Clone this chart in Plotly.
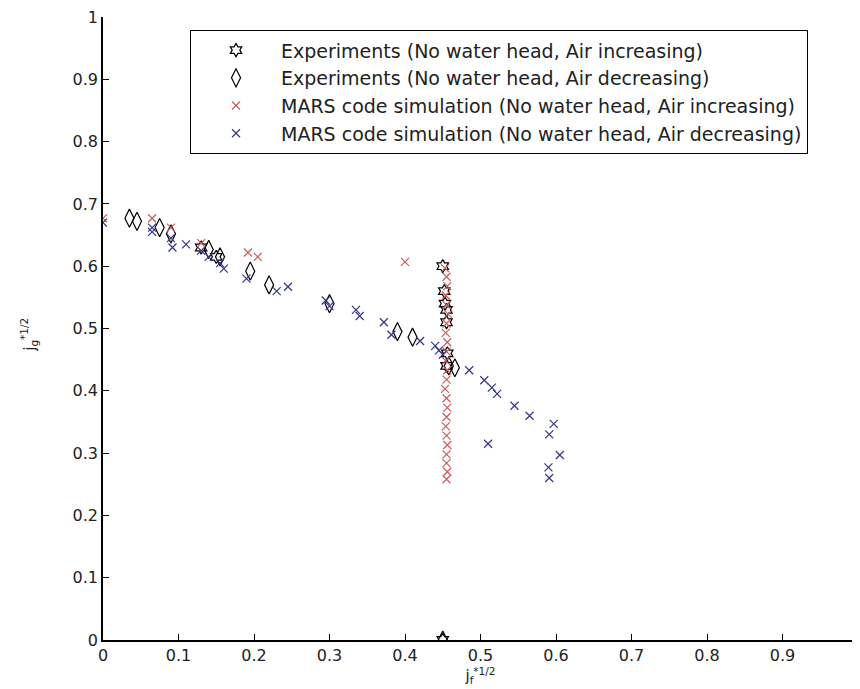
import plotly.graph_objects as go

# Experiments (No water head, Air increasing) - star markers
exp_inc_x = [0.450, 0.452, 0.453, 0.455, 0.455, 0.456, 0.455, 0.130, 0.150, 0.450]
exp_inc_y = [0.600, 0.560, 0.540, 0.530, 0.510, 0.460, 0.440, 0.630, 0.615, 0.000]

# Experiments (No water head, Air decreasing) - diamond markers
exp_dec_x = [0.035, 0.045, 0.075, 0.090, 0.140, 0.155, 0.195, 0.220, 0.300, 0.390, 0.410, 0.458, 0.466, 0.450]
exp_dec_y = [0.677, 0.672, 0.662, 0.652, 0.627, 0.615, 0.592, 0.570, 0.540, 0.495, 0.486, 0.440, 0.437, 0.000]

# MARS code simulation (No water head, Air increasing) - red x
mars_inc_x = [0.000, 0.065, 0.090, 0.130, 0.192, 0.205, 0.400,
              0.453, 0.455, 0.456, 0.454, 0.455, 0.457, 0.455, 0.454, 0.456, 0.455,
              0.454, 0.456, 0.455, 0.453, 0.455, 0.456, 0.455, 0.454, 0.455, 0.456,
              0.455, 0.455, 0.456, 0.455]
mars_inc_y = [0.677, 0.677, 0.662, 0.637, 0.622, 0.615, 0.607,
              0.597, 0.583, 0.568, 0.553, 0.538, 0.523, 0.508, 0.493, 0.478, 0.463,
              0.448, 0.433, 0.418, 0.403, 0.388, 0.373, 0.358, 0.343, 0.328, 0.313,
              0.298, 0.284, 0.270, 0.258]

# MARS code simulation (No water head, Air decreasing) - blue x
mars_dec_x = [0.000, 0.065, 0.065, 0.090, 0.092, 0.110, 0.130, 0.140, 0.155, 0.160,
              0.190, 0.230, 0.245, 0.295, 0.300, 0.335, 0.340, 0.372, 0.382, 0.420,
              0.440, 0.445, 0.450, 0.485, 0.505, 0.515, 0.522, 0.545, 0.565, 0.597,
              0.591, 0.605, 0.590, 0.591, 0.510]
mars_dec_y = [0.670, 0.662, 0.655, 0.645, 0.630, 0.635, 0.625, 0.615, 0.605, 0.596,
              0.580, 0.560, 0.567, 0.545, 0.536, 0.530, 0.520, 0.510, 0.490, 0.480,
              0.472, 0.465, 0.458, 0.433, 0.417, 0.405, 0.395, 0.376, 0.360, 0.347,
              0.330, 0.297, 0.277, 0.260, 0.315]

x_ticks = [0, 0.1, 0.2, 0.3, 0.4, 0.5, 0.6, 0.7, 0.8, 0.9, 1]
x_tick_labels = ["0", "0.1", "0.2", "0.3", "0.4", "0.5", "0.6", "0.7", "0.8", "0.9", "1"]
y_ticks = [0, 0.1, 0.2, 0.3, 0.4, 0.5, 0.6, 0.7, 0.8, 0.9, 1]
y_tick_labels = ["0", "0.1", "0.2", "0.3", "0.4", "0.5", "0.6", "0.7", "0.8", "0.9", "1"]

RED = "#cc5c5c"
BLUE = "#34348c"
FONT = "DejaVu Sans, sans-serif"

fig = go.Figure()
fig.add_trace(go.Scatter(
    x=exp_inc_x, y=exp_inc_y, mode="markers",
    name="Experiments (No water head, Air increasing)",
    marker=dict(symbol="hexagram-open", size=10, color="black", line=dict(width=1.2, color="black"))))
fig.add_trace(go.Scatter(
    x=exp_dec_x, y=exp_dec_y, mode="markers",
    name="Experiments (No water head, Air decreasing)",
    marker=dict(symbol="diamond-tall-open", size=13, color="black", line=dict(width=1.2, color="black"))))
fig.add_trace(go.Scatter(
    x=mars_inc_x, y=mars_inc_y, mode="markers",
    name="MARS code simulation (No water head, Air increasing)",
    marker=dict(symbol="x-thin-open", size=8, color=RED, line=dict(width=1.2, color=RED))))
fig.add_trace(go.Scatter(
    x=mars_dec_x, y=mars_dec_y, mode="markers",
    name="MARS code simulation (No water head, Air decreasing)",
    marker=dict(symbol="x-thin-open", size=8, color=BLUE, line=dict(width=1.2, color=BLUE))))

axis_common = dict(
    showgrid=False, zeroline=False, showline=True, linecolor="black", linewidth=1.5,
    ticks="inside", ticklen=6, tickcolor="black", tickwidth=1.2, automargin=False,
    ticklabeloverflow="allow",
    tickfont=dict(family=FONT, size=16, color="#222"),
)

fig.update_xaxes(range=[0, 1], tickvals=x_ticks, ticktext=x_tick_labels,
                 title=dict(text="j<sub>f</sub><sup>*1/2</sup>", standoff=0,
                            font=dict(family=FONT, size=15, color="#222")),
                 **axis_common)
fig.update_yaxes(range=[0, 1], tickvals=y_ticks, ticktext=y_tick_labels,
                 **axis_common)

fig.add_annotation(text="j<sub>g</sub><sup>*1/2</sup>", textangle=-90,
                   xref="paper", yref="paper", x=-0.098, y=0.49,
                   xanchor="center", yanchor="middle", showarrow=False,
                   font=dict(family=FONT, size=15, color="#222"))

fig.update_layout(
    width=852, height=681,
    margin=dict(l=95, r=2, t=9, b=49),
    paper_bgcolor="white", plot_bgcolor="white",
    showlegend=True,
    legend=dict(x=0.115, y=0.979, xanchor="left", yanchor="top",
                bgcolor="white", bordercolor="black", borderwidth=1.2,
                font=dict(family=FONT, size=19, color="#222"),
                itemwidth=80),
)

fig.write_html("out.html")
